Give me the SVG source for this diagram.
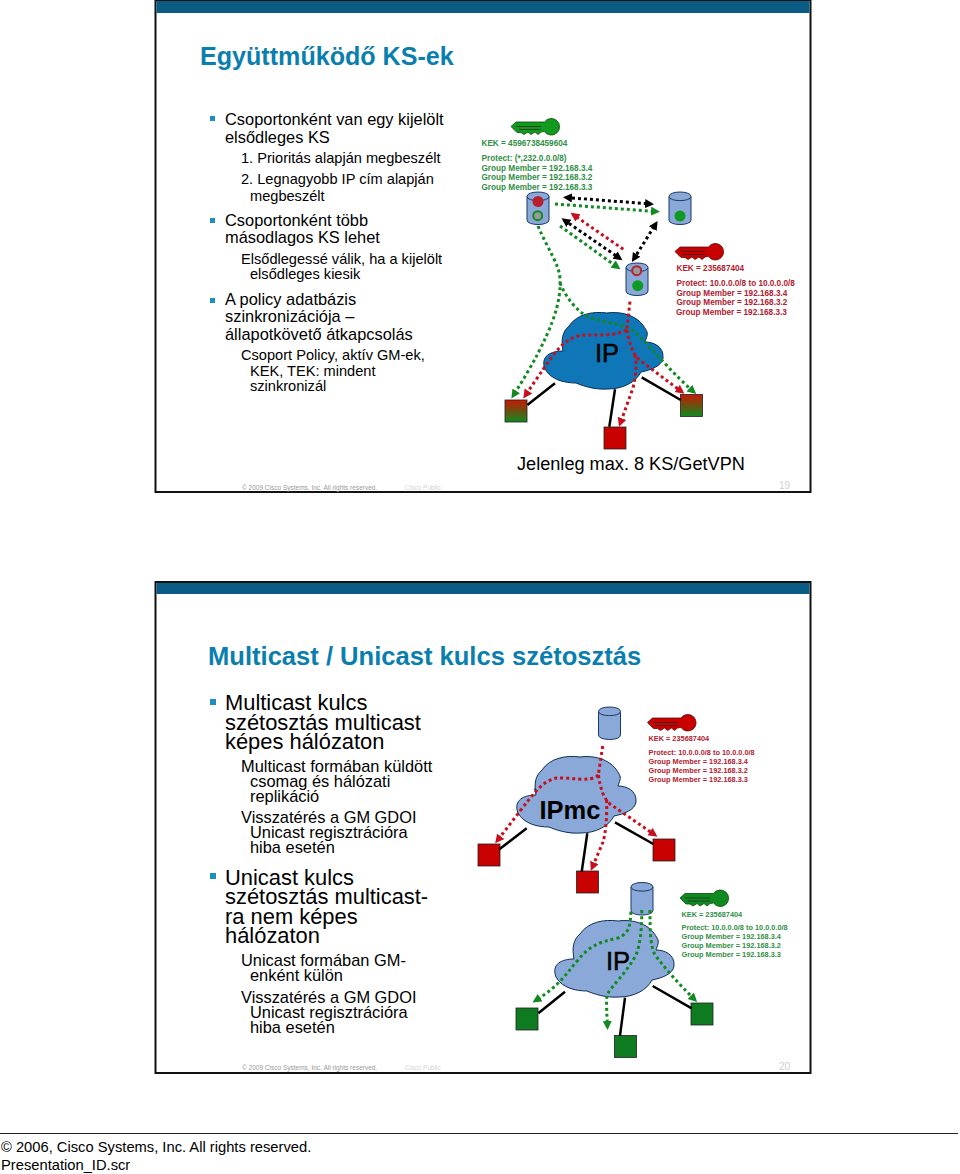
<svg xmlns="http://www.w3.org/2000/svg" width="960" height="1174" viewBox="0 0 960 1174">
<style>
text{font-family:"Liberation Sans",Arial,sans-serif;fill:#000}
.title{font-size:25.100px;font-weight:bold;fill:#0a7fae}
.title2{font-size:25.570px;font-weight:bold;fill:#0a7fae}
.b1{font-size:16.400px}.b2{font-size:14.600px}
.c1{font-size:21.900px}.c2{font-size:16.400px}
.fa{font-size:6.500px;fill:#999}.fb{font-size:6.500px;fill:#d4d4d4}.pn{font-size:10px;fill:#d0d0d0}
.tg{font-size:8.200px;font-weight:bold;fill:#2f8f45}.tr{font-size:8.200px;font-weight:bold;fill:#b0202e}
.tg2{font-size:7.350px;font-weight:bold;fill:#2f8f45}.tr2{font-size:7.350px;font-weight:bold;fill:#b0202e}
.ip{font-size:25.500px;stroke:#000;stroke-width:.5}
.blt{fill:#1a8fc0}.frame{fill:#fff;stroke:#111;stroke-width:2}.bar{fill:#0b5c85}
.cyl{fill:#8aa8d8;stroke:#1a3a6a;stroke-width:1}
.lnk{fill:none;stroke:#000;stroke-width:2.500}
.dk,.dg,.dr{fill:none;stroke-width:3;stroke-dasharray:3 3}
.dk{stroke:#000}.dg{stroke:#118a22}.dr{stroke:#c80f1e}
.rs{fill:#c80000;stroke:#222;stroke-width:.8}.gs{fill:#0f7b20;stroke:#222;stroke-width:.8}.ms{fill:url(#rg);stroke:#222;stroke-width:.8}
</style>
<defs>
<linearGradient id="rg" x1="0" y1="0" x2="0" y2="1"><stop offset="0" stop-color="#c81800"/><stop offset="1" stop-color="#0f8a20"/></linearGradient>
<marker id="ak" markerUnits="userSpaceOnUse" markerWidth="10" markerHeight="10" refX="6" refY="4.500" orient="auto-start-reverse"><path d="M0 0L9 4.500L0 9z" fill="#000"/></marker>
<marker id="ag" markerUnits="userSpaceOnUse" markerWidth="10" markerHeight="10" refX="6" refY="4.500" orient="auto"><path d="M0 0L9 4.500L0 9z" fill="#118a22"/></marker>
<marker id="ar" markerUnits="userSpaceOnUse" markerWidth="10" markerHeight="10" refX="6" refY="4.500" orient="auto"><path d="M0 0L9 4.500L0 9z" fill="#c80f1e"/></marker>
<path id="cloud" d="M2 57C-3 44 8 39 20 39C18 28 19 20 26 14C34 2 50 -1 64 1C80 -1 96 4 103 18C106 22 103 26 102 30C110 30 121 34 120 46C119 54 108 58 98 60C93 70 80 77 65 77C52 78 40 74 33 71C22 71 8 68 2 57z"/>
<g id="key"><path d="M0 8.500L5 4H33.500A8.300 8.300 0 1 1 33.500 13.500L30 14L27 16.500L24 14L20 16.500L17 14L13 16.500L10 14.500H6z"/><path d="M5 8.500H30M8 11.500H30" fill="none" stroke="#222" stroke-width=".7"/></g>
<g id="cylb"><path class="cyl" d="M0 4.500C0 -1.500 22 -1.500 22 4.500V28C22 34 0 34 0 28z"/><path class="cyl" d="M0 4.500C0 10 22 10 22 4.500" fill="none"/></g>
</defs>

<g id="slide1">
<rect class="frame" x="155.500" y="0" width="655" height="492"/>
<rect class="bar" x="156.500" y="1" width="653" height="12"/>
<text class="title" x="200" y="65">Együttműködő KS-ek</text>
<rect class="blt" x="210" y="116" width="5" height="5"/><rect class="blt" x="210" y="218" width="5" height="5"/><rect class="blt" x="210" y="298" width="5" height="5"/>
<text class="b1" x="225" y="124.500">Csoportonként van egy kijelölt</text>
<text class="b1" x="225" y="142.500">elsődleges KS</text>
<text class="b2" x="241" y="163">1. Prioritás alapján megbeszélt</text>
<text class="b2" x="241" y="184">2. Legnagyobb IP cím alapján</text>
<text class="b2" x="250" y="201">megbeszélt</text>
<text class="b1" x="225" y="226">Csoportonként több</text>
<text class="b1" x="225" y="243">másodlagos KS lehet</text>
<text class="b2" x="241" y="264">Elsődlegessé válik, ha a kijelölt</text>
<text class="b2" x="250" y="279">elsődleges kiesik</text>
<text class="b1" x="225" y="305">A policy adatbázis</text>
<text class="b1" x="225" y="322">szinkronizációja –</text>
<text class="b1" x="225" y="339.500">állapotkövető átkapcsolás</text>
<text class="b2" x="241" y="360">Csoport Policy, aktív GM-ek,</text>
<text class="b2" x="250" y="376">KEK, TEK:  mindent</text>
<text class="b2" x="250" y="391">szinkronizál</text>
<text x="517" y="470" font-size="18.150">Jelenleg max. 8 KS/GetVPN</text>
<text class="fa" x="242" y="490">© 2009 Cisco Systems, Inc. All rights reserved.</text>
<text class="fb" x="405" y="490">Cisco Public</text>
<text class="pn" x="779" y="489">19</text>
</g>

<g id="cloud-1"><use href="#cloud" x="543" y="312" fill="#0f76b8" stroke="#0b2f55"/><text class="ip" x="595" y="362">IP</text></g>
<g id="ks-a"><use href="#cylb" x="527" y="192"/><circle cx="538" cy="201.500" r="5.500" fill="#b8202c"/><circle cx="537.700" cy="215.700" r="4.500" fill="#999" stroke="#118a22" stroke-width="2"/></g>
<g id="ks-b"><use href="#cylb" x="669" y="192"/><circle cx="680" cy="216" r="5.500" fill="#0f9a25"/></g>
<g id="ks-c"><use href="#cylb" x="626" y="263"/><circle cx="636.700" cy="270.700" r="4.500" fill="#999" stroke="#b8202c" stroke-width="2"/><circle cx="637.700" cy="285.700" r="5.500" fill="#0f9a25"/></g>
<g id="key-a" fill="#119a1e" stroke="#0a4a10" stroke-width=".8"><use href="#key" x="511" y="118"/></g>
<g id="label-a"><text class="tg" x="481.500" y="146">KEK = 4596738459604</text><text class="tg" x="481.500" y="160.500">Protect: (*,232.0.0.0/8)</text><text class="tg" x="481.500" y="170.500">Group Member = 192.168.3.4</text><text class="tg" x="481.500" y="180">Group Member = 192.168.3.2</text><text class="tg" x="481.500" y="189.500">Group Member = 192.168.3.3</text></g>
<g id="key-b" fill="#c80000" stroke="#5a0a0a" stroke-width=".8"><use href="#key" x="675" y="243"/></g>
<g id="label-b"><text class="tr" x="676.500" y="271">KEK = 235687404</text><text class="tr" x="676.500" y="285.500">Protect: 10.0.0.0/8 to 10.0.0.0/8</text><text class="tr" x="676.500" y="295.500">Group Member = 192.168.3.4</text><text class="tr" x="676.500" y="305">Group Member = 192.168.3.2</text><text class="tr" x="676" y="315">Group Member = 192.168.3.3</text></g>
<rect id="gm-1a" class="ms" x="505" y="400" width="22" height="22"/>
<rect id="gm-1b" class="rs" x="604" y="427" width="22" height="22"/>
<rect id="gm-1c" class="ms" x="680.500" y="394.500" width="22" height="22"/>

<g id="connectors-1">
<path class="lnk" d="M555 383.300L527.300 405M615 389.300L609.300 426.700M641.700 377.300L680.700 400"/>
<path class="dk" marker-start="url(#ak)" marker-end="url(#ak)" d="M566 197.500L651 204"/>
<path class="dg" marker-end="url(#ag)" d="M555 204L657 211.600"/>
<path class="dr" marker-end="url(#ar)" d="M623.300 249.300L573 214.500"/>
<path class="dk" marker-start="url(#ak)" marker-end="url(#ak)" d="M564 220L620 258.500"/>
<path class="dg" marker-end="url(#ag)" d="M560 226L618 267.500"/>
<path class="dk" marker-start="url(#ak)" marker-end="url(#ak)" d="M633.500 259.500L656 223.500"/>
<path class="dg" marker-end="url(#ag)" d="M538 226C548 250 560 265 560 280C561 300 555 330 513 396"/>
<path class="dg" marker-end="url(#ag)" d="M560 283C566 298 578 312 587 316C605 324 625 322 638 335C655 352 675 376 694 392"/>
<path class="dr" d="M630 301.700L626.700 330"/>
<path class="dr" marker-end="url(#ar)" d="M626.700 330C610 338 592 333 578 336C560 342 555 352 525 396"/>
<path class="dr" marker-end="url(#ar)" d="M626.700 330C630 345 632 350 637 358L682 392"/>
<path class="dr" marker-end="url(#ar)" d="M635 355C637 365 636 375 633 388L620 424"/>
</g>

<g id="slide2">
<rect class="frame" x="155.500" y="582" width="655" height="491"/>
<rect class="bar" x="156.500" y="583" width="653" height="11"/>
<text class="title2" x="208" y="665">Multicast / Unicast kulcs szétosztás</text>
<rect class="blt" x="210" y="699" width="6" height="6"/><rect class="blt" x="210" y="873" width="6" height="6"/>
<text class="c1" x="225" y="709.500">Multicast kulcs</text>
<text class="c1" x="225" y="729.500">szétosztás multicast</text>
<text class="c1" x="225" y="749">képes hálózaton</text>
<text class="c2" x="241" y="771.500">Multicast formában küldött</text>
<text class="c2" x="250" y="786.500">csomag és hálózati</text>
<text class="c2" x="250" y="801.500">replikáció</text>
<text class="c2" x="241" y="823">Visszatérés a GM GDOI</text>
<text class="c2" x="250" y="838">Unicast regisztrációra</text>
<text class="c2" x="250" y="853">hiba esetén</text>
<text class="c1" x="225" y="885">Unicast kulcs</text>
<text class="c1" x="225" y="904">szétosztás multicast-</text>
<text class="c1" x="225" y="924">ra nem képes</text>
<text class="c1" x="225" y="943">hálózaton</text>
<text class="c2" x="241" y="966">Unicast formában GM-</text>
<text class="c2" x="250" y="981">enként külön</text>
<text class="c2" x="241" y="1003">Visszatérés a GM GDOI</text>
<text class="c2" x="250" y="1018">Unicast regisztrációra</text>
<text class="c2" x="250" y="1033">hiba esetén</text>
<text class="fa" x="242" y="1070">© 2009 Cisco Systems, Inc. All rights reserved.</text>
<text class="fb" x="405" y="1070">Cisco Public</text>
<text class="pn" x="779" y="1070">20</text>
</g>

<g id="cloud-2"><path d="M534 790L541 780L546 788zM552 825L565 828L572 833z" fill="#0f76b8" stroke="#0b2f55" stroke-width=".6"/><use href="#cloud" x="516" y="756" fill="#8aa8d8" stroke="#0b2f55"/><text x="539.500" y="819" font-size="25.500" font-weight="bold">IPmc</text></g>
<g id="ks-d"><use href="#cylb" x="598.500" y="707"/></g>
<g id="key-c" fill="#c80000" stroke="#5a0a0a" stroke-width=".8"><use href="#key" x="647.500" y="714"/></g>
<g id="label-c"><text class="tr2" x="648.500" y="741">KEK = 235687404</text><text class="tr2" x="648.500" y="755">Protect: 10.0.0.0/8 to 10.0.0.0/8</text><text class="tr2" x="648.500" y="764">Group Member = 192.168.3.4</text><text class="tr2" x="648.500" y="773">Group Member = 192.168.3.2</text><text class="tr2" x="648.500" y="781.500">Group Member = 192.168.3.3</text></g>
<rect id="gm-2a" class="rs" x="478" y="844" width="22" height="22"/>
<rect id="gm-2b" class="rs" x="576.500" y="871" width="22" height="22"/>
<rect id="gm-2c" class="rs" x="653" y="839" width="22" height="22"/>
<g id="connectors-2">
<path class="lnk" d="M526.700 828.300L499.300 849.300M587.300 833.300L581.700 871.700M615 822.300L653.300 844"/>
<path class="dr" d="M602.700 746L598.300 775"/>
<path class="dr" marker-end="url(#ar)" d="M598.300 775C590 783 570 777 556.700 778C540 782 535 792 497 841"/>
<path class="dr" marker-end="url(#ar)" d="M598.300 775C601 790 603 797 610 804L655 835"/>
<path class="dr" marker-end="url(#ar)" d="M606.700 800C607 815 606 832 603 842L592 868"/>
</g>

<g id="cloud-3"><use href="#cloud" x="554" y="920" fill="#8aa8d8" stroke="#0b2f55"/><text class="ip" x="606" y="970">IP</text></g>
<g id="ks-e"><use href="#cylb" x="631" y="882.500"/></g>
<g id="key-d" fill="#0f8a20" stroke="#0a4a10" stroke-width=".8"><use href="#key" x="680" y="889.500"/></g>
<g id="label-d"><text class="tg2" x="681.500" y="916.500">KEK = 235687404</text><text class="tg2" x="681.500" y="930">Protect: 10.0.0.0/8 to 10.0.0.0/8</text><text class="tg2" x="681.500" y="939">Group Member = 192.168.3.4</text><text class="tg2" x="681.500" y="948">Group Member = 192.168.3.2</text><text class="tg2" x="681.500" y="956.500">Group Member = 192.168.3.3</text></g>
<rect id="gm-3a" class="gs" x="516" y="1008" width="22" height="22"/>
<rect id="gm-3b" class="gs" x="614.500" y="1035.500" width="22" height="22"/>
<rect id="gm-3c" class="gs" x="691" y="1003" width="22" height="22"/>
<g id="connectors-3">
<path class="lnk" d="M565 991.700L538.300 1013.300M625 997.700L620 1035.700M652.700 986L691.700 1008.300"/>
<path class="dg" marker-end="url(#ag)" d="M631 911.700C630 925 630 933 618 938C600 942 590 945 578 960C565 975 560 985 535 1001"/>
<path class="dg" marker-end="url(#ag)" d="M641.700 910C642 930 640 945 636 955C625 975 612 985 607 995C606 1005 607 1015 607.500 1027"/>
<path class="dg" marker-end="url(#ag)" d="M650 910C650 930 650 945 655 955C668 972 680 985 695 1000"/>
</g>

<g id="page-footer">
<path d="M0 1133.500H958" stroke="#222" stroke-width="1.200"/>
<text x="1" y="1152" font-size="14.730">© 2006, Cisco Systems, Inc. All rights reserved.</text>
<text x="1" y="1170" font-size="14.730">Presentation_ID.scr</text>
</g>
</svg>
